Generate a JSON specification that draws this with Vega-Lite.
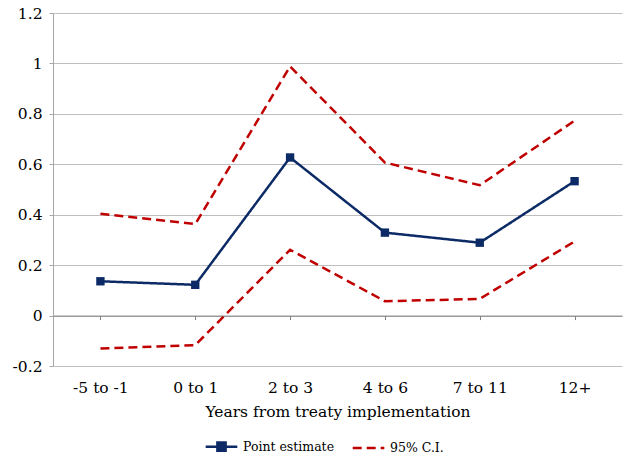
{
  "$schema": "https://vega.github.io/schema/vega-lite/v6.json",
  "autosize": {"type": "none"},
  "width": 569,
  "height": 353,
  "padding": {"left": 53, "top": 13, "right": 5, "bottom": 89},
  "background": "white",
  "config": {
    "view": {"stroke": null},
    "font": "DejaVu Serif",
    "axis": {"labelFont": "DejaVu Serif", "titleFont": "DejaVu Serif", "labelColor": "black", "titleColor": "black"}
  },
  "data": {"values": [
    {"cat": "-5 to -1", "value": 0.136, "series": "Point estimate", "line": "pe"},
    {"cat": "0 to 1", "value": 0.122, "series": "Point estimate", "line": "pe"},
    {"cat": "2 to 3", "value": 0.627, "series": "Point estimate", "line": "pe"},
    {"cat": "4 to 6", "value": 0.329, "series": "Point estimate", "line": "pe"},
    {"cat": "7 to 11", "value": 0.289, "series": "Point estimate", "line": "pe"},
    {"cat": "12+", "value": 0.533, "series": "Point estimate", "line": "pe"},
    {"cat": "-5 to -1", "value": 0.404, "series": "95% C.I.", "line": "up"},
    {"cat": "0 to 1", "value": 0.363, "series": "95% C.I.", "line": "up"},
    {"cat": "2 to 3", "value": 0.988, "series": "95% C.I.", "line": "up"},
    {"cat": "4 to 6", "value": 0.607, "series": "95% C.I.", "line": "up"},
    {"cat": "7 to 11", "value": 0.517, "series": "95% C.I.", "line": "up"},
    {"cat": "12+", "value": 0.773, "series": "95% C.I.", "line": "up"},
    {"cat": "-5 to -1", "value": -0.131, "series": "95% C.I.", "line": "lo"},
    {"cat": "0 to 1", "value": -0.117, "series": "95% C.I.", "line": "lo"},
    {"cat": "2 to 3", "value": 0.261, "series": "95% C.I.", "line": "lo"},
    {"cat": "4 to 6", "value": 0.057, "series": "95% C.I.", "line": "lo"},
    {"cat": "7 to 11", "value": 0.066, "series": "95% C.I.", "line": "lo"},
    {"cat": "12+", "value": 0.294, "series": "95% C.I.", "line": "lo"}
  ]},
  "layer": [
    {
      "mark": {"type": "line", "strokeWidth": 2.5},
      "encoding": {
        "x": {
          "field": "cat", "type": "ordinal",
          "sort": ["-5 to -1", "0 to 1", "2 to 3", "4 to 6", "7 to 11", "12+"],
          "scale": {"paddingInner": 0, "paddingOuter": 0},
          "axis": {
            "title": "Years from treaty implementation", "labelAngle": 0,
            "labelFontSize": 15.5, "titleFontSize": 15.5, "titleFontWeight": "normal",
            "ticks": false, "domain": false, "labelPadding": 14, "titlePadding": 9, "grid": false
          }
        },
        "y": {
          "field": "value", "type": "quantitative",
          "scale": {"domain": [-0.2, 1.2], "nice": false, "zero": false},
          "axis": {
            "title": null, "values": [-0.2, 0, 0.2, 0.4, 0.6, 0.8, 1, 1.2],
            "labelFontSize": 15.5, "labelPadding": 7, "tickSize": 4,
            "tickColor": "#A6A6A6", "domainColor": "#A6A6A6", "gridColor": "#BFBFBF", "grid": true,
            "labelExpr": "datum.value == 0 ? '0' : replace(format(datum.value, '.1~f'), '\u2212', '-')"
          }
        },
        "color": {
          "field": "series", "type": "nominal",
          "scale": {"domain": ["Point estimate", "95% C.I."], "range": ["#0C2B66", "#C00000"]},
          "legend": {
            "orient": "none", "legendX": 151, "legendY": 416, "direction": "horizontal",
            "title": null, "labelFont": "DejaVu Serif", "labelFontSize": 12.5, "labelColor": "black",
            "symbolSize": 1000, "symbolStrokeWidth": 2.5, "columnPadding": 12, "labelOffset": 4,
            "encode": {"symbols": {"update": {
              "shape": {"signal": "datum.value === 'Point estimate' ? 'M-1,0H1M-0.26,-0.26H0.26V0.26H-0.26Z' : 'M-1,0H1'"},
              "fill": {"signal": "datum.value === 'Point estimate' ? '#0C2B66' : 'transparent'"}
            }}}
          }
        },
        "strokeDash": {
          "field": "series", "type": "nominal",
          "scale": {"domain": ["Point estimate", "95% C.I."], "range": [[1, 0], [9, 5]]},
          "legend": null
        },
        "detail": {"field": "line"}
      }
    },
    {
      "transform": [{"filter": "datum.series === 'Point estimate'"}],
      "mark": {"type": "point", "shape": "square", "filled": true, "opacity": 1, "size": 70, "color": "#0C2B66"},
      "encoding": {
        "x": {
          "field": "cat", "type": "ordinal",
          "sort": ["-5 to -1", "0 to 1", "2 to 3", "4 to 6", "7 to 11", "12+"],
          "axis": {
            "orient": "bottom", "offset": -50.4, "labels": false, "title": null, "grid": false,
            "ticks": true, "tickSize": 4, "tickColor": "#808080", "domainColor": "#808080",
            "bandPosition": 0
          }
        },
        "y": {"field": "value", "type": "quantitative"}
      }
    }
  ],
  "resolve": {"axis": {"x": "independent"}}
}
